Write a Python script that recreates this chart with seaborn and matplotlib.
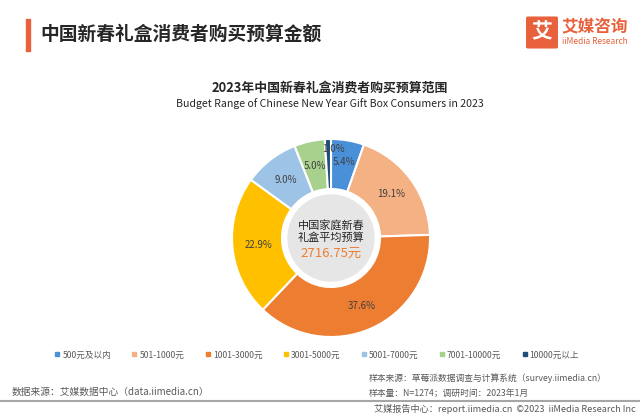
import numpy as np
import matplotlib.pyplot as plt
import matplotlib.patches as mpatches
from matplotlib.lines import Line2D
import seaborn as sns

# -----------------------------
# Data
# -----------------------------
categories = ["500元及以内", "501-1000元", "1001-3000元", "3001-5000元",
              "5001-7000元", "7001-10000元", "10000元以上"]
shares = [5.4, 19.1, 37.6, 22.9, 9.0, 5.0, 1.0]
colors = ["#4A90D9", "#F4B183", "#ED7D31", "#FFC000",
          "#9DC3E6", "#A9D18E", "#1F4E79"]
avg_budget = "2716.75元"

# label distance from centre (fraction of radius) for each wedge
label_dist = [0.77, 0.74, 0.74, 0.73, 0.74, 0.74, 0.89]

sns.set_theme(style="white")
plt.rcParams["font.family"] = ["Noto Sans CJK SC", "DejaVu Sans"]

W, H = 640, 416
fig = plt.figure(figsize=(6.4, 4.16), dpi=100)
fig.patch.set_facecolor("white")


def fx(x):
    return x / W


def fy(y):
    return 1 - y / H


# -----------------------------
# Header
# -----------------------------
fig.patches.append(mpatches.Rectangle((fx(26), fy(51)), fx(4), 32 / H,
                                      transform=fig.transFigure,
                                      color="#E8613C", zorder=5))
fig.text(fx(40), fy(34), "中国新春礼盒消费者购买预算金额", fontsize=13.5,
         fontweight="bold", color="#262626", va="center")

# logo
fig.patches.append(mpatches.FancyBboxPatch((fx(528), fy(47)), fx(28), 29 / H,
                                           boxstyle="round,pad=0.002",
                                           transform=fig.transFigure,
                                           color="#E8613C", zorder=5))
fig.text(fx(542), fy(32), "艾", fontsize=15, fontweight="bold", color="white",
         ha="center", va="center", zorder=6)
fig.text(fx(561), fy(27), "艾媒咨询", fontsize=12, fontweight="bold",
         color="#E8613C", va="center")
fig.text(fx(562), fy(42), "iiMedia Research", fontsize=6, color="#E8613C",
         va="center")

# chart titles
fig.text(fx(330), fy(88), "2023年中国新春礼盒消费者购买预算范围", fontsize=9.3,
         fontweight="bold", color="#262626", ha="center", va="center")
fig.text(fx(330), fy(104), "Budget Range of Chinese New Year Gift Box Consumers in 2023",
         fontsize=7.6, color="#262626", ha="center", va="center")

# -----------------------------
# Donut
# -----------------------------
cx, cy, R = 331, 238, 100
ax = fig.add_axes([fx(cx - R), 1 - (cy + R) / H, 2 * R / W, 2 * R / H])
wedges, texts, autotexts = ax.pie(
    shares,
    colors=colors,
    startangle=90,
    counterclock=False,
    autopct="%.1f%%",
    pctdistance=0.74,
    radius=0.99,
    wedgeprops=dict(width=0.5, edgecolor="white", linewidth=1.5),
    textprops=dict(fontsize=7, color="#404040"),
)
for w, t, d in zip(wedges, autotexts, label_dist):
    ang = np.deg2rad((w.theta1 + w.theta2) / 2)
    t.set_position((d * np.cos(ang), d * np.sin(ang)))
autotexts[-1].set_x(autotexts[-1].get_position()[0] + 0.05)

ax.add_patch(mpatches.Circle((0, 0), 0.43, color="#E6E6E6", zorder=3))
ax.text(0, 0.07, "中国家庭新春\n礼盒平均预算", fontsize=8, color="#262626",
        ha="center", va="center", linespacing=1.2, zorder=4)
ax.text(0, -0.15, avg_budget, fontsize=9.5, color="#ED7D31",
        ha="center", va="center", zorder=4)
ax.set_xlim(-1, 1)
ax.set_ylim(-1, 1)
ax.set_aspect("equal")
ax.axis("off")

# -----------------------------
# Legend
# -----------------------------
handles = [Line2D([0], [0], marker="s", linestyle="", markersize=3.5,
                  markerfacecolor=c, markeredgecolor=c) for c in colors]
fig.legend(handles, categories, loc="center", bbox_to_anchor=(fx(317), fy(355)),
           ncol=7, frameon=False, fontsize=6.2, labelcolor="#595959",
           handlelength=0.6, handletextpad=0.3, columnspacing=2.4)

# -----------------------------
# Footer
# -----------------------------
fig.text(fx(12), fy(392), "数据来源：艾媒数据中心（data.iimedia.cn）", fontsize=7,
         color="#595959", va="center")
fig.text(fx(369), fy(378), "样本来源：草莓派数据调查与计算系统（survey.iimedia.cn）",
         fontsize=6.3, color="#595959", va="center")
fig.text(fx(369), fy(393), "样本量：N=1274；调研时间：2023年1月", fontsize=6.3,
         color="#595959", va="center")
fig.lines.append(Line2D([0, 1], [fy(401), fy(401)], transform=fig.transFigure,
                        color="#A6A6A6", linewidth=1.5))
fig.text(fx(636), fy(409), "艾媒报告中心：report.iimedia.cn  ©2023  iiMedia Research Inc",
         fontsize=6.6, color="#595959", ha="right", va="center")

fig.savefig("out.png", dpi=100, facecolor="white")
